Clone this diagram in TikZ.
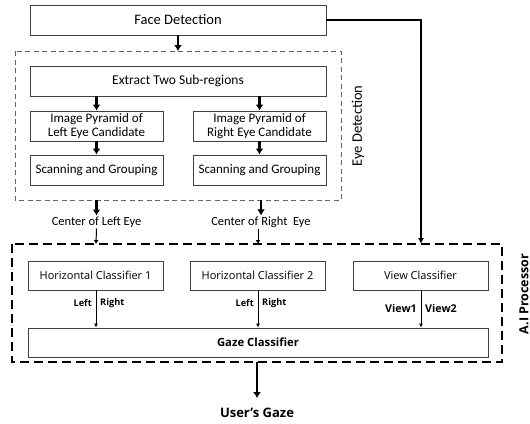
\documentclass[tikz,border=0pt]{standalone}
\usepackage{fontspec}
\setmainfont{Carlito}
\newfontfamily\gothic{Open Sans}
\usetikzlibrary{arrows.meta}
\begin{document}
\begin{tikzpicture}[x=1pt,y=-1pt,
  box/.style={draw=black!75,line width=0.9pt,fill=white,inner sep=0pt,align=center},
  fat/.style={line width=2.4pt,-{Latex[length=6pt,width=8pt]}},
  slim/.style={line width=0.8pt,-{Latex[length=4pt,width=4pt]}},
  upper/.style={font=\fontsize{13}{14.5}\selectfont},
  lower/.style={font=\gothic\fontsize{11}{13}\selectfont},
  tag/.style={font=\gothic\bfseries\fontsize{9.2}{11}\selectfont,inner sep=1pt}]
\useasboundingbox (0,0) rectangle (530,423);

% eye detection stage
\node[box,minimum width=296pt,minimum height=30pt,font=\fontsize{14.5}{16}\selectfont] (face) at (178,20) {Face Detection};
\draw[draw=black!60,line width=0.9pt,dash pattern=on 5pt off 3.5pt] (15,51) rectangle (341,200);
\coordinate (eyetop) at (178,51);
\node[box,minimum width=296pt,minimum height=30pt,font=\fontsize{13.5}{15}\selectfont] (extract) at (178,81) {Extract Two Sub-regions};
\node[box,upper,minimum width=133pt,minimum height=30pt] (pyrL) at (96.5,126) {Image Pyramid of\\[-1pt]Left Eye Candidate};
\node[box,upper,minimum width=133pt,minimum height=30pt] (pyrR) at (259.5,126) {Image Pyramid of\\[-1pt]Right Eye Candidate};
\node[box,upper,minimum width=133pt,minimum height=30pt] (scanL) at (96.5,170) {Scanning and Grouping};
\node[box,upper,minimum width=133pt,minimum height=30pt] (scanR) at (259.5,170) {Scanning and Grouping};
\node[font=\fontsize{14.5}{16}\selectfont,rotate=90] (eyelabel) at (358,126) {Eye Detection};

\draw[fat] (face.south) -- (eyetop);
\draw[fat] (extract.south -| pyrL) -- (pyrL.north);
\draw[fat] (extract.south -| pyrR) -- (pyrR.north);
\draw[fat] (pyrL.south) -- (scanL.north);
\draw[fat] (pyrR.south) -- (scanR.north);

\coordinate (outL) at (96.5,200);
\coordinate (outR) at (261,200);
\node[font=\fontsize{12.5}{14}\selectfont,inner sep=1pt] (cL) at (96.5,222) {Center of Left Eye};
\node[font=\fontsize{12.5}{14}\selectfont,inner sep=1pt] (cR) at (261,222) {Center of Right\ \ Eye};
\draw[fat] (outL) -- (cL.north);
\draw[fat] (outR) -- (cR.north);

% classifier stage
\draw[black,line width=1.4pt,dash pattern=on 9pt off 5pt] (12,244) rectangle (502,362);
\coordinate (inL) at (96,244);
\coordinate (inR) at (258,244);
\coordinate (inV) at (421,244);
\draw[line width=1pt,-{Latex[length=4pt,width=5pt]}] (cL.south) -- (inL);
\draw[line width=1pt,-{Latex[length=4pt,width=5pt]}] (cR.south -| inR) -- (inR);
\draw[line width=1.8pt,-{Latex[length=6pt,width=6pt]}] (face.east) -| (inV);

\node[box,lower,minimum width=135pt,minimum height=29pt] (h1) at (95.5,275.5) {Horizontal Classifier 1};
\node[box,lower,minimum width=135pt,minimum height=29pt] (h2) at (257.5,275.5) {Horizontal Classifier 2};
\node[box,lower,minimum width=135pt,minimum height=29pt] (view) at (420.5,275.5) {View Classifier};
\node[box,minimum width=460pt,minimum height=29pt,font=\gothic\bfseries\fontsize{11.3}{13}\selectfont] (gaze) at (258,342.5) {Gaze Classifier};
\node[font=\gothic\bfseries\fontsize{12.5}{14}\selectfont,rotate=90] (ai) at (524,294) {A.I Processor};

\draw[slim] (h1.south -| 96,0) -- (gaze.north -| 96,0);
\draw[slim] (h2.south -| 258,0) -- (gaze.north -| 258,0);
\draw[slim] (view.south -| 421,0) -- (gaze.north -| 421,0);
\node[tag,anchor=east] (l1) at (93,303) {Left};
\node[tag,anchor=west] (r1) at (99,303) {Right};
\node[tag,anchor=east] (l2) at (255,303) {Left};
\node[tag,anchor=west] (r2) at (261,303) {Right};
\node[tag,anchor=east,font=\gothic\bfseries\fontsize{10.7}{12}\selectfont] (v1) at (418,308) {View1};
\node[tag,anchor=west,font=\gothic\bfseries\fontsize{10.7}{12}\selectfont] (v2) at (424,308) {View2};

\coordinate (procout) at (257,362);
\node[font=\gothic\bfseries\fontsize{13}{15}\selectfont,inner sep=1pt] (user) at (257,413) {User’s Gaze};
\draw[fat] (procout) -- (257,398);
\end{tikzpicture}
\end{document}
